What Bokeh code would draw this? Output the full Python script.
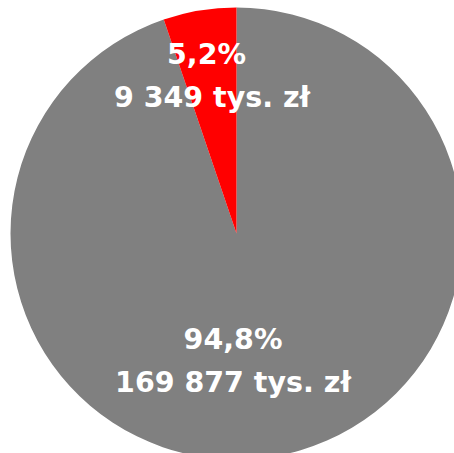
import math
from bokeh.plotting import figure
from bokeh.models import ColumnDataSource
from bokeh.core.properties import value
from bokeh.embed import file_html
from bokeh.resources import INLINE

# data
categories = ["Pozostałe", "Wyróżnione"]
values = [169877, 9349]
colors = ["#808080", "#FF0000"]

total = sum(values)
# red slice starts at 12 o'clock going counterclockwise, gray fills the rest
fracs = [v / total for v in values]
red_start = math.pi / 2
red_end = red_start + 2 * math.pi * fracs[1]
starts = [red_end, red_start]
ends = [red_start + 2 * math.pi, red_end]


def fmt_pct(f):
    return f"{f*100:.1f}".replace(".", ",") + "%"


def fmt_val(v):
    return f"{v:,}".replace(",", " ") + " tys. zł"


src = ColumnDataSource(dict(cat=categories, val=values, color=colors,
                            start=starts, end=ends))

W, H = 454, 453
p = figure(width=W, height=H, x_range=(0, W), y_range=(0, H),
           output_backend="svg", toolbar_location=None,
           x_axis_type=None, y_axis_type=None, min_border=0)
p.grid.visible = False
p.outline_line_color = None
p.background_fill_color = "white"
p.border_fill_color = "white"

cx, cy, R = 236, 220, 226
p.wedge(x=cx, y=cy, radius=R, start_angle="start", end_angle="end",
        fill_color="color", line_color=None, source=src)

# label positions (style): [pct line (x, y), value line (x, y)] per slice
label_pos = [((232.5, 114), (232.5, 71.5)),
             ((206, 399), (211.5, 356.5))]
tx, ty, tt = [], [], []
for i, (v, f) in enumerate(zip(values, fracs)):
    (x1, y1), (x2, y2) = label_pos[i]
    tx += [x1, x2]
    ty += [y1, y2]
    tt += [fmt_pct(f), fmt_val(v)]

p.text(x=tx, y=ty, text=tt, text_color="white",
       text_font=value("DejaVu Sans"), text_font_style="bold",
       text_font_size="28.5px", text_align="center",
       text_baseline="alphabetic")

open("out.html", "w").write(file_html(p, INLINE))
